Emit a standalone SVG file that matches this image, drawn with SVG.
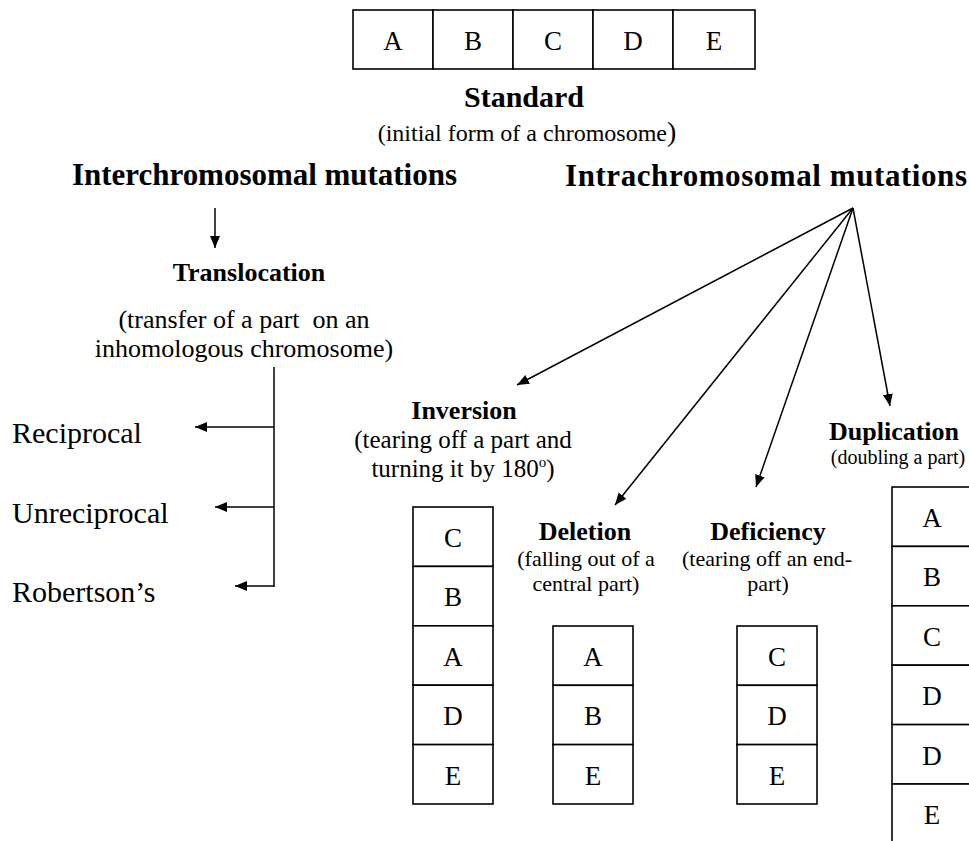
<svg xmlns="http://www.w3.org/2000/svg" width="969" height="841" viewBox="0 0 969 841">
<defs>
<marker id="ah" markerUnits="userSpaceOnUse" markerWidth="13" markerHeight="11" refX="12" refY="5" orient="auto">
<path d="M0,0 L12,5 L0,10 z" fill="#000"/>
</marker>
<style>
text{font-family:"Liberation Serif","Times New Roman",serif;fill:#000}
.b{font-weight:bold}
.cell{fill:#fff;stroke:#000;stroke-width:1.6}
.lt{font-size:27px;text-anchor:middle}
.c{text-anchor:middle}
.con{stroke:#000;stroke-width:1.5;fill:none}
.arr{marker-end:url(#ah)}
</style>
</defs>
<rect width="969" height="841" fill="#fff"/>

<g id="standard">
<rect class="cell" x="353" y="10" width="80" height="59"/>
<rect class="cell" x="433" y="10" width="80" height="59"/>
<rect class="cell" x="513" y="10" width="80" height="59"/>
<rect class="cell" x="593" y="10" width="80" height="59"/>
<rect class="cell" x="673" y="10" width="82" height="59"/>
<text class="lt" x="393" y="50">A</text>
<text class="lt" x="473" y="50">B</text>
<text class="lt" x="553" y="50">C</text>
<text class="lt" x="633" y="50">D</text>
<text class="lt" x="714" y="50">E</text>
<text class="b c" x="524" y="107" font-size="30">Standard</text>
<text class="c" x="527" y="141" font-size="24">(initial form of a chromosome<tspan font-size="28">)</tspan></text>
</g>

<g id="inter">
<text class="b" x="72" y="185" font-size="31" textLength="385" lengthAdjust="spacing">Interchromosomal mutations</text>
</g>

<g id="intra">
<text class="b" x="565" y="186" font-size="31" textLength="402" lengthAdjust="spacing">Intrachromosomal mutations</text>
</g>

<g id="translocation">
<text class="b c" x="249" y="281" font-size="26">Translocation</text>
<text class="c" x="244" y="328" font-size="26">(transfer of a part&#160; on an</text>
<text class="c" x="244" y="357" font-size="26">inhomologous chromosome)</text>
</g>

<g id="reciprocal"><text x="12" y="443" font-size="30">Reciprocal</text></g>
<g id="unreciprocal"><text x="12" y="523" font-size="30">Unreciprocal</text></g>
<g id="robertsons"><text x="12" y="602" font-size="30">Robertson’s</text></g>

<g id="inversion">
<text class="b c" x="464" y="419" font-size="26">Inversion</text>
<text class="c" x="463" y="448" font-size="25">(tearing off a part and</text>
<text class="c" x="463" y="477" font-size="25">turning it by 180<tspan font-size="15" dy="-10">o</tspan><tspan dy="10">)</tspan></text>
<rect class="cell" x="413" y="507" width="80" height="59.4"/>
<rect class="cell" x="413" y="566.4" width="80" height="59.4"/>
<rect class="cell" x="413" y="625.8" width="80" height="59.4"/>
<rect class="cell" x="413" y="685.2" width="80" height="59.4"/>
<rect class="cell" x="413" y="744.6" width="80" height="59.4"/>
<text class="lt" x="453" y="547">C</text>
<text class="lt" x="453" y="606">B</text>
<text class="lt" x="453" y="666">A</text>
<text class="lt" x="453" y="725">D</text>
<text class="lt" x="453" y="785">E</text>
</g>

<g id="deletion">
<text class="b c" x="585" y="540" font-size="26">Deletion</text>
<text class="c" x="586" y="566" font-size="22">(falling out of a</text>
<text class="c" x="586" y="591" font-size="22">central part)</text>
<rect class="cell" x="553" y="626" width="80" height="59.3"/>
<rect class="cell" x="553" y="685.3" width="80" height="59.3"/>
<rect class="cell" x="553" y="744.6" width="80" height="59.4"/>
<text class="lt" x="593" y="666">A</text>
<text class="lt" x="593" y="725">B</text>
<text class="lt" x="593" y="785">E</text>
</g>

<g id="deficiency">
<text class="b c" x="768" y="540" font-size="26">Deficiency</text>
<text class="c" x="767" y="566" font-size="22">(tearing off an end-</text>
<text class="c" x="768" y="591" font-size="22">part)</text>
<rect class="cell" x="737" y="626" width="80" height="59.3"/>
<rect class="cell" x="737" y="685.3" width="80" height="59.3"/>
<rect class="cell" x="737" y="744.6" width="80" height="59.4"/>
<text class="lt" x="777" y="666">C</text>
<text class="lt" x="777" y="725">D</text>
<text class="lt" x="777" y="785">E</text>
</g>

<g id="duplication">
<text class="b c" x="894" y="440" font-size="26">Duplication</text>
<text class="c" x="898" y="464" font-size="20">(doubling a part)</text>
<rect class="cell" x="892" y="487" width="80" height="59.4"/>
<rect class="cell" x="892" y="546.4" width="80" height="59.4"/>
<rect class="cell" x="892" y="605.8" width="80" height="59.4"/>
<rect class="cell" x="892" y="665.2" width="80" height="59.4"/>
<rect class="cell" x="892" y="724.6" width="80" height="59.4"/>
<rect class="cell" x="892" y="784" width="80" height="70"/>
<text class="lt" x="932" y="527">A</text>
<text class="lt" x="932" y="586">B</text>
<text class="lt" x="932" y="646">C</text>
<text class="lt" x="932" y="705">D</text>
<text class="lt" x="932" y="765">D</text>
<text class="lt" x="932" y="824">E</text>
</g>

<g id="connectors">
<line class="con arr" x1="215" y1="208" x2="215" y2="248"/>
<line class="con" x1="274" y1="367" x2="274" y2="587"/>
<line class="con arr" x1="274" y1="427" x2="195" y2="427"/>
<line class="con arr" x1="274" y1="507" x2="215" y2="507"/>
<line class="con arr" x1="274" y1="586" x2="235" y2="586"/>
<line class="con arr" x1="853" y1="208" x2="517" y2="385"/>
<line class="con arr" x1="853" y1="208" x2="615" y2="505"/>
<line class="con arr" x1="853" y1="208" x2="756" y2="487"/>
<line class="con arr" x1="853" y1="208" x2="890" y2="406"/>
</g>
</svg>
